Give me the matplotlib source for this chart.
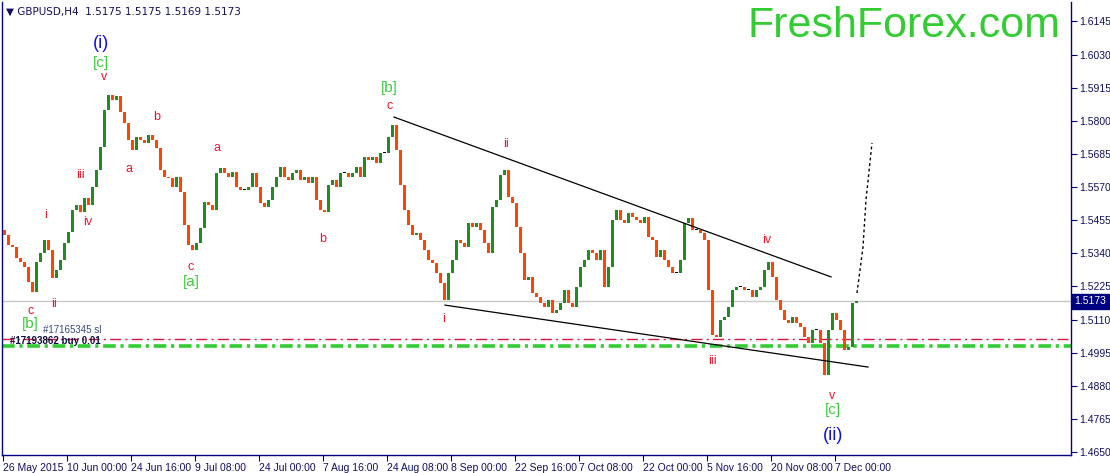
import matplotlib
matplotlib.use("Agg")
import matplotlib.pyplot as plt
import matplotlib.transforms as mtransforms
import numpy as np

plt.rcParams['font.family'] = ['Liberation Sans', 'DejaVu Sans']

# closes, one candle every 4 H4 bars
closes = [
    1.5403, 1.5368, 1.5361, 1.5323, 1.5309, 1.5292, 1.5240, 1.5205, 1.5309, 1.5341,
    1.5386, 1.5351, 1.5254, 1.5282, 1.5316, 1.5375, 1.5413, 1.5490, 1.5507, 1.5483,
    1.5532, 1.5507, 1.5570, 1.5629, 1.5709, 1.5837, 1.5890, 1.5872, 1.5886, 1.5831,
    1.5792, 1.5733, 1.5699, 1.5744, 1.5733, 1.5723, 1.5751, 1.5733, 1.5706, 1.5629,
    1.5605, 1.5601, 1.5570, 1.5605, 1.5553, 1.5438, 1.5368, 1.5351, 1.5375, 1.5427,
    1.5518, 1.5507, 1.5490, 1.5619, 1.5636, 1.5619, 1.5605, 1.5622, 1.5570, 1.5560,
    1.5560, 1.5570, 1.5619, 1.5570, 1.5514, 1.5500, 1.5525, 1.5570, 1.5605, 1.5640,
    1.5605, 1.5594, 1.5619, 1.5629, 1.5594, 1.5605, 1.5584, 1.5605, 1.5525, 1.5490,
    1.5483, 1.5577, 1.5594, 1.5570, 1.5619, 1.5619, 1.5605, 1.5619, 1.5640, 1.5605,
    1.5674, 1.5664, 1.5674, 1.5654, 1.5688, 1.5688, 1.5744, 1.5785, 1.5699, 1.5577,
    1.5490, 1.5438, 1.5403, 1.5410, 1.5386, 1.5351, 1.5316, 1.5306, 1.5271, 1.5236,
    1.5177, 1.5271, 1.5316, 1.5386, 1.5375, 1.5361, 1.5445, 1.5431, 1.5445, 1.5420,
    1.5375, 1.5341, 1.5500, 1.5525, 1.5612, 1.5629, 1.5535, 1.5514, 1.5431, 1.5341,
    1.5247, 1.5257, 1.5202, 1.5188, 1.5167, 1.5153, 1.5177, 1.5132, 1.5143, 1.5167,
    1.5212, 1.5167, 1.5153, 1.5222, 1.5292, 1.5316, 1.5351, 1.5341, 1.5316, 1.5351,
    1.5222, 1.5292, 1.5455, 1.5490, 1.5455, 1.5445, 1.5480, 1.5466, 1.5455, 1.5445,
    1.5466, 1.5396, 1.5386, 1.5327, 1.5351, 1.5316, 1.5292, 1.5271, 1.5271, 1.5316,
    1.5445, 1.5462, 1.5420, 1.5420, 1.5410, 1.5386, 1.5212, 1.5056, 1.5049, 1.5108,
    1.5118, 1.5153, 1.5212, 1.5222, 1.5222, 1.5212, 1.5212, 1.5188, 1.5212, 1.5222,
    1.5282, 1.5309, 1.5257, 1.5177, 1.5143, 1.5108, 1.5098, 1.5118, 1.5098, 1.5084,
    1.5049, 1.5028, 1.5073, 1.5073, 1.5028, 1.4917, 1.5073, 1.5132, 1.5108, 1.5073,
    1.5004, 1.5014, 1.5167, 1.5173,
]
first_open = 1.5420
bars_per_candle = 4

date_labels = ['26 May 2015', '10 Jun 00:00', '24 Jun 16:00', '9 Jul 08:00', '24 Jul 00:00',
               '7 Aug 16:00', '24 Aug 08:00', '8 Sep 00:00', '22 Sep 16:00', '7 Oct 08:00',
               '22 Oct 00:00', '5 Nov 16:00', '20 Nov 08:00', '7 Dec 00:00']
bars_per_label = 64

price_ticks = [1.6145, 1.6030, 1.5915, 1.5800, 1.5685, 1.5570, 1.5455, 1.5340,
               1.5225, 1.5110, 1.4995, 1.4880, 1.4765, 1.4650]
last_price = 1.5173
sl_level = 1.5042
buy_level = 1.5018

# trend lines (bar index, price)
upper_line = ([391, 828], [1.5813, 1.5258])
lower_line = ([442, 865], [1.5160, 1.4945])
forecast = ([854, 860, 863, 869], [1.5202, 1.5362, 1.5525, 1.5723])

# wave labels: text, bar, price, kind
waves = [
    ('(i)', 98, 1.6067, 'blue'), ('[c]', 98, 1.6001, 'green'), ('v', 101, 1.5952, 'red'),
    ('b', 154, 1.5813, 'red'), ('a', 126, 1.5633, 'red'), ('a', 214, 1.5706, 'red'),
    ('iii', 77, 1.5612, 'red'), ('iv', 85, 1.5449, 'red'), ('i', 43, 1.5473, 'red'),
    ('ii', 51, 1.5164, 'red'), ('c', 28, 1.5140, 'red'), ('[b]', 27, 1.5094, 'green'),
    ('c', 188, 1.5292, 'red'), ('[a]', 188, 1.5240, 'green'), ('b', 320, 1.5390, 'red'),
    ('[b]', 386, 1.5914, 'green'), ('c', 387, 1.5851, 'red'), ('ii', 503, 1.5719, 'red'),
    ('i', 441, 1.5112, 'red'), ('iii', 709, 1.4966, 'red'), ('iv', 764, 1.5386, 'red'),
    ('v', 829, 1.4844, 'red'), ('[c]', 830, 1.4796, 'green'), ('(ii)', 830, 1.4709, 'blue'),
]
wave_style = {'red': ('#f0142d', 9), 'green': ('#3ccc3c', 11), 'blue': ('#1010e0', 13)}

navy = '#000080'

fig = plt.figure(figsize=(11.1, 4.73), dpi=100)
ax = fig.add_axes([2 / 1110, 18 / 473, 1069 / 1110, 453 / 473])
ax.set_xlim(-1, 1068)
ax.set_ylim(1.46396, 1.62125)

# candles
opens = [first_open] + closes[:-1]
xs = np.arange(len(closes)) * bars_per_candle + 1.5
for x, o, c in zip(xs, opens, closes):
    if abs(c - o) < 0.0002:
        col = 'black'
    elif c > o:
        col = '#228b22'
    else:
        col = '#ff4500'
    lo, hi = min(o, c), max(o, c)
    if hi - lo < 0.0003:
        hi = lo + 0.0003
    ax.bar(x, hi - lo, bottom=lo, width=3.2, color=col, linewidth=0, zorder=3)

ax.axhline(last_price, color='#c8c8c8', lw=1, zorder=1)
ax.axhline(sl_level, color='#dc143c', lw=1, linestyle=(0, (8, 3, 1.5, 3)), zorder=2)
ax.axhline(buy_level, color='#32cd32', lw=2.6, linestyle=(0, (3.5, 1.3, 0.9, 1.3)), zorder=2)

ax.plot(*upper_line, color='black', lw=0.9, zorder=4)
ax.plot(*lower_line, color='black', lw=0.9, zorder=4)
ax.plot(*forecast, color='black', lw=1, linestyle=(0, (2, 2)), zorder=4)

for txt, bx, py, kind in waves:
    col, size = wave_style[kind]
    ax.text(bx, py, txt, color=col, fontsize=size, ha='center', va='center', zorder=5)

ax.text(40, 1.5072, '#17165345 sl', color='#3a4a7a', fontsize=7, va='center', zorder=6)
ax.text(7, 1.5036, '#17193862 buy 0.01', color='#101040', fontsize=7, fontweight='bold',
        va='center', zorder=6)

ax.text(0.004, 0.978, '\u25bc GBPUSD,H4  1.5175 1.5175 1.5169 1.5173', transform=ax.transAxes,
        color='#101060', fontsize=7.5, va='center', ha='left', family=['DejaVu Sans'])
ax.text(0.697, 0.947, 'FreshForex.com', transform=ax.transAxes, color='#33cc33',
        fontsize=31, va='center', ha='left')

# axes styling
for side in ['left', 'bottom', 'right']:
    ax.spines[side].set_color(navy)
    ax.spines[side].set_linewidth(1)
ax.spines['top'].set_visible(False)

ax.yaxis.tick_right()
ax.set_yticks(price_ticks)
ax.set_yticklabels([f'{p:.4f}' for p in price_ticks])
ax.tick_params(axis='y', direction='out', length=4, color=navy, labelcolor='#101060',
               labelsize=7.5, pad=2)

ax.set_xticks(np.arange(len(date_labels)) * bars_per_label)
ax.set_xticklabels(date_labels, ha='left')
ax.tick_params(axis='x', direction='out', length=4, color=navy, labelcolor='#101060',
               labelsize=7.5, pad=2)

trans = mtransforms.blended_transform_factory(ax.transAxes, ax.transData)
ax.text(1.003, last_price, '1.5173', transform=trans, color='white', fontsize=7.5,
        va='center', ha='left',
        bbox=dict(boxstyle='square,pad=0.25', facecolor=navy, edgecolor=navy))

fig.savefig('out.png', dpi=100)
